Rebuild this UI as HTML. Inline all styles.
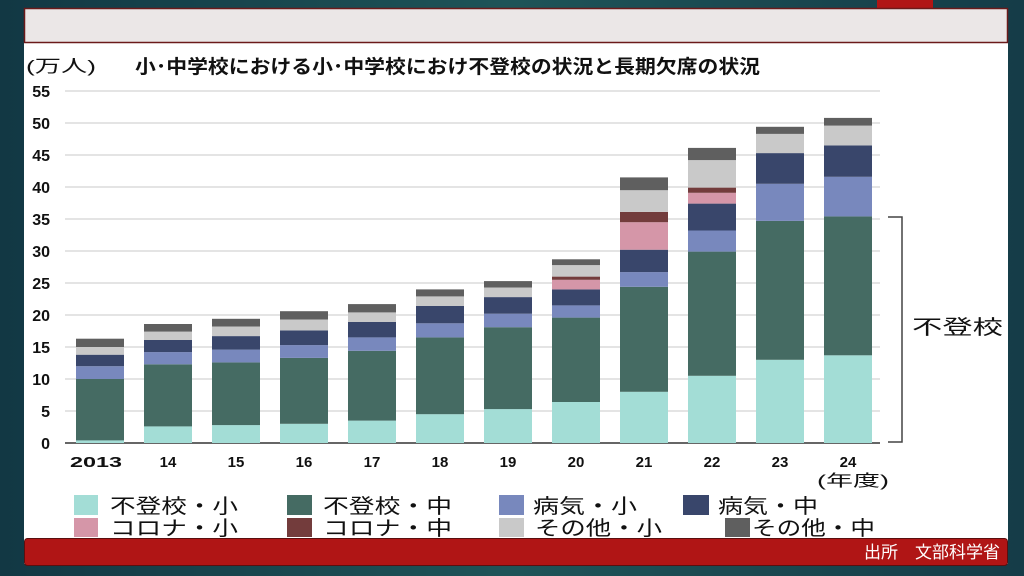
<!DOCTYPE html>
<html><head><meta charset="utf-8"><style>
html,body{margin:0;padding:0;}
body{width:1024px;height:576px;overflow:hidden;background:linear-gradient(90deg,#123844 0%,#1e5458 50%,#153c48 100%);font-family:"Liberation Sans","Noto Sans CJK JP",sans-serif;}
</style></head><body>
<svg width="1024" height="576" xmlns="http://www.w3.org/2000/svg" style="position:absolute;left:0;top:0;font-family:'Liberation Sans','Noto Sans CJK JP',sans-serif">
<rect x="877" y="0" width="56" height="9" fill="#b01515"/>
<rect x="24" y="8" width="984" height="556" fill="#ffffff"/>
<rect x="24.5" y="8.5" width="983" height="34" fill="#ebe7e7" stroke="#6b1a1a" stroke-width="1.5"/>
<rect x="24.5" y="538.5" width="983" height="27" rx="3" fill="#b01515" stroke="#5a0f0f"/>
<text x="1000" y="558" font-size="17" fill="#fff" text-anchor="end">出所　文部科学省</text>
<text x="26" y="72" font-size="17" fill="#111" textLength="70" lengthAdjust="spacingAndGlyphs">(万人)</text>
<text x="135" y="73" font-size="19" font-weight="bold" fill="#111" textLength="625" lengthAdjust="spacingAndGlyphs">小･中学校における小･中学校におけ不登校の状況と長期欠席の状況</text>
<g stroke="#d4d4d4" stroke-width="1.2">
<line x1="65" y1="91" x2="880" y2="91"/><line x1="65" y1="123" x2="880" y2="123"/><line x1="65" y1="155" x2="880" y2="155"/><line x1="65" y1="187" x2="880" y2="187"/><line x1="65" y1="219" x2="880" y2="219"/><line x1="65" y1="251" x2="880" y2="251"/><line x1="65" y1="283" x2="880" y2="283"/><line x1="65" y1="315" x2="880" y2="315"/><line x1="65" y1="347" x2="880" y2="347"/><line x1="65" y1="379" x2="880" y2="379"/><line x1="65" y1="411" x2="880" y2="411"/>
</g>
<g font-size="16" fill="#111" text-anchor="end" font-weight="bold">
<text x="50" y="97">55</text><text x="50" y="129">50</text><text x="50" y="161">45</text><text x="50" y="193">40</text><text x="50" y="225">35</text><text x="50" y="257">30</text><text x="50" y="289">25</text><text x="50" y="321">20</text><text x="50" y="353">15</text><text x="50" y="385">10</text><text x="50" y="417">5</text><text x="50" y="449">0</text>
</g>
<line x1="65" y1="443" x2="880" y2="443" stroke="#333" stroke-width="1.5"/>
<path d="M888 217 H902 V442 H888" fill="none" stroke="#444" stroke-width="1.5"/>
<text x="912" y="334" font-size="20" fill="#111" textLength="91" lengthAdjust="spacingAndGlyphs">不登校</text>
<g font-size="15" fill="#111" text-anchor="middle" font-weight="bold">
<text x="96" y="467" textLength="52" lengthAdjust="spacingAndGlyphs">2013</text><text x="168" y="467">14</text><text x="236" y="467">15</text><text x="304" y="467">16</text><text x="372" y="467">17</text><text x="440" y="467">18</text><text x="508" y="467">19</text><text x="576" y="467">20</text><text x="644" y="467">21</text><text x="712" y="467">22</text><text x="780" y="467">23</text><text x="848" y="467">24</text>
</g>
<text x="817" y="486" font-size="16" fill="#111" textLength="72" lengthAdjust="spacingAndGlyphs">(年度)</text>
<g font-size="20" fill="#111">
<rect x="74" y="495" width="24" height="20" fill="#a3ddd6"/><text x="110" y="513" textLength="128" lengthAdjust="spacingAndGlyphs">不登校・小</text>
<rect x="287" y="495" width="25" height="20" fill="#456b63"/><text x="323" y="513" textLength="129" lengthAdjust="spacingAndGlyphs">不登校・中</text>
<rect x="499" y="495" width="25" height="20" fill="#7888bd"/><text x="533" y="513" textLength="104" lengthAdjust="spacingAndGlyphs">病気・小</text>
<rect x="683" y="495" width="26" height="20" fill="#39466b"/><text x="718" y="513" textLength="100" lengthAdjust="spacingAndGlyphs">病気・中</text>
<rect x="74" y="518" width="24" height="19" fill="#d596a8"/><text x="110" y="535" textLength="128" lengthAdjust="spacingAndGlyphs">コロナ・小</text>
<rect x="287" y="518" width="25" height="19" fill="#733c3c"/><text x="323" y="535" textLength="129" lengthAdjust="spacingAndGlyphs">コロナ・中</text>
<rect x="499" y="518" width="25" height="19" fill="#c9c9c9"/><text x="535" y="535" textLength="127" lengthAdjust="spacingAndGlyphs">その他・小</text>
<rect x="725" y="518" width="25" height="19" fill="#5f5f5f"/><text x="752" y="535" textLength="123" lengthAdjust="spacingAndGlyphs">その他・中</text>
</g>
<g>
<rect x="76" y="440.4" width="48" height="2.6" fill="#a3ddd6"/><rect x="76" y="379" width="48" height="61.4" fill="#456b63"/><rect x="76" y="366.2" width="48" height="12.8" fill="#7888bd"/><rect x="76" y="354.7" width="48" height="11.5" fill="#39466b"/><rect x="76" y="347" width="48" height="7.7" fill="#c9c9c9"/><rect x="76" y="338.7" width="48" height="8.3" fill="#5f5f5f"/>
<rect x="144" y="426.4" width="48" height="16.6" fill="#a3ddd6"/><rect x="144" y="364.3" width="48" height="62.1" fill="#456b63"/><rect x="144" y="352.1" width="48" height="12.2" fill="#7888bd"/><rect x="144" y="340" width="48" height="12.1" fill="#39466b"/><rect x="144" y="331.6" width="48" height="8.4" fill="#c9c9c9"/><rect x="144" y="324" width="48" height="7.6" fill="#5f5f5f"/>
<rect x="212" y="425.1" width="48" height="17.9" fill="#a3ddd6"/><rect x="212" y="362.4" width="48" height="62.7" fill="#456b63"/><rect x="212" y="349.6" width="48" height="12.8" fill="#7888bd"/><rect x="212" y="336.1" width="48" height="13.5" fill="#39466b"/><rect x="212" y="326.5" width="48" height="9.6" fill="#c9c9c9"/><rect x="212" y="318.8" width="48" height="7.7" fill="#5f5f5f"/>
<rect x="280" y="423.8" width="48" height="19.2" fill="#a3ddd6"/><rect x="280" y="357.9" width="48" height="65.9" fill="#456b63"/><rect x="280" y="345.1" width="48" height="12.8" fill="#7888bd"/><rect x="280" y="330.4" width="48" height="14.7" fill="#39466b"/><rect x="280" y="319.5" width="48" height="10.9" fill="#c9c9c9"/><rect x="280" y="311.2" width="48" height="8.3" fill="#5f5f5f"/>
<rect x="348" y="420.6" width="48" height="22.4" fill="#a3ddd6"/><rect x="348" y="350.8" width="48" height="69.8" fill="#456b63"/><rect x="348" y="337.4" width="48" height="13.4" fill="#7888bd"/><rect x="348" y="322" width="48" height="15.4" fill="#39466b"/><rect x="348" y="312.4" width="48" height="9.6" fill="#c9c9c9"/><rect x="348" y="304.1" width="48" height="8.3" fill="#5f5f5f"/>
<rect x="416" y="414.2" width="48" height="28.8" fill="#a3ddd6"/><rect x="416" y="337.4" width="48" height="76.8" fill="#456b63"/><rect x="416" y="323.3" width="48" height="14.1" fill="#7888bd"/><rect x="416" y="306" width="48" height="17.3" fill="#39466b"/><rect x="416" y="296.4" width="48" height="9.6" fill="#c9c9c9"/><rect x="416" y="289.4" width="48" height="7" fill="#5f5f5f"/>
<rect x="484" y="409.1" width="48" height="33.9" fill="#a3ddd6"/><rect x="484" y="327.2" width="48" height="81.9" fill="#456b63"/><rect x="484" y="313.7" width="48" height="13.5" fill="#7888bd"/><rect x="484" y="297.1" width="48" height="16.6" fill="#39466b"/><rect x="484" y="287.5" width="48" height="9.6" fill="#c9c9c9"/><rect x="484" y="281.1" width="48" height="6.4" fill="#5f5f5f"/>
<rect x="552" y="402" width="48" height="41" fill="#a3ddd6"/><rect x="552" y="317.6" width="48" height="84.4" fill="#456b63"/><rect x="552" y="305.4" width="48" height="12.2" fill="#7888bd"/><rect x="552" y="289.4" width="48" height="16" fill="#39466b"/><rect x="552" y="279.8" width="48" height="9.6" fill="#d596a8"/><rect x="552" y="276.6" width="48" height="3.2" fill="#733c3c"/><rect x="552" y="265.1" width="48" height="11.5" fill="#c9c9c9"/><rect x="552" y="259.3" width="48" height="5.8" fill="#5f5f5f"/>
<rect x="620" y="391.8" width="48" height="51.2" fill="#a3ddd6"/><rect x="620" y="286.8" width="48" height="105" fill="#456b63"/><rect x="620" y="272.1" width="48" height="14.7" fill="#7888bd"/><rect x="620" y="249.7" width="48" height="22.4" fill="#39466b"/><rect x="620" y="222.2" width="48" height="27.5" fill="#d596a8"/><rect x="620" y="211.9" width="48" height="10.3" fill="#733c3c"/><rect x="620" y="190.2" width="48" height="21.7" fill="#c9c9c9"/><rect x="620" y="177.4" width="48" height="12.8" fill="#5f5f5f"/>
<rect x="688" y="375.8" width="48" height="67.2" fill="#a3ddd6"/><rect x="688" y="251.6" width="48" height="124.2" fill="#456b63"/><rect x="688" y="230.5" width="48" height="21.1" fill="#7888bd"/><rect x="688" y="203.6" width="48" height="26.9" fill="#39466b"/><rect x="688" y="192.8" width="48" height="10.8" fill="#d596a8"/><rect x="688" y="187.6" width="48" height="5.2" fill="#733c3c"/><rect x="688" y="160.1" width="48" height="27.5" fill="#c9c9c9"/><rect x="688" y="147.9" width="48" height="12.2" fill="#5f5f5f"/>
<rect x="756" y="359.8" width="48" height="83.2" fill="#a3ddd6"/><rect x="756" y="220.9" width="48" height="138.9" fill="#456b63"/><rect x="756" y="183.8" width="48" height="37.1" fill="#7888bd"/><rect x="756" y="153.1" width="48" height="30.7" fill="#39466b"/><rect x="756" y="133.9" width="48" height="19.2" fill="#c9c9c9"/><rect x="756" y="126.8" width="48" height="7.1" fill="#5f5f5f"/>
<rect x="824" y="355.3" width="48" height="87.7" fill="#a3ddd6"/><rect x="824" y="216.4" width="48" height="138.9" fill="#456b63"/><rect x="824" y="176.8" width="48" height="39.6" fill="#7888bd"/><rect x="824" y="145.4" width="48" height="31.4" fill="#39466b"/><rect x="824" y="125.6" width="48" height="19.8" fill="#c9c9c9"/><rect x="824" y="117.9" width="48" height="7.7" fill="#5f5f5f"/>
</g>
</svg>
</body></html>
